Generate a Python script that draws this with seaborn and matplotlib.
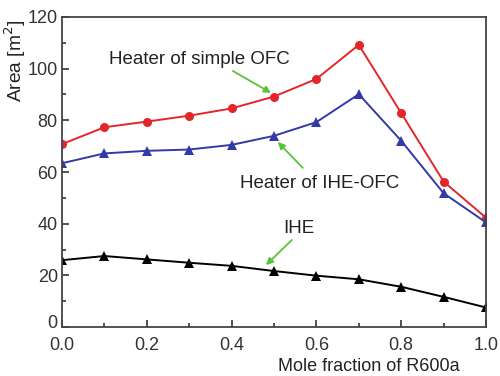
import matplotlib
matplotlib.use("Agg")
import matplotlib.pyplot as plt
import matplotlib.transforms as mtransforms
import seaborn as sns
import pandas as pd
from matplotlib.ticker import MultipleLocator

x = [0.0, 0.1, 0.2, 0.3, 0.4, 0.5, 0.6, 0.7, 0.8, 0.9, 1.0]
simple_ofc = [70.8, 77.3, 79.5, 81.8, 84.6, 89.2, 96.0, 109.2, 82.8, 56.3, 42.3]
ihe_ofc = [63.4, 67.2, 68.2, 68.7, 70.5, 74.0, 79.3, 90.1, 72.1, 51.8, 40.5]
ihe = [25.9, 27.5, 26.2, 24.9, 23.7, 21.7, 19.9, 18.5, 15.6, 11.7, 7.6]

sns.set_style("ticks")
plt.rcParams['font.family'] = ['Liberation Sans', 'DejaVu Sans']

fig = plt.figure(figsize=(5, 3.76), dpi=100)
ax = fig.add_axes([0.124, 0.130, 0.848, 0.825])

df = pd.DataFrame({"x": x, "a": simple_ofc, "b": ihe_ofc, "c": ihe})
sns.lineplot(data=df, x="x", y="a", ax=ax, color="#e3262a", marker="o",
             markersize=6.5, markeredgewidth=0, linewidth=1.4)
sns.lineplot(data=df, x="x", y="b", ax=ax, color="#3439a8", marker="^",
             markersize=7, markeredgewidth=0, linewidth=1.4)
sns.lineplot(data=df, x="x", y="c", ax=ax, color="black", marker="^",
             markersize=7, markeredgewidth=0, linewidth=1.4)

ax.set_xlim(0, 1.0)
ax.set_ylim(0, 120)
ax.xaxis.set_major_locator(MultipleLocator(0.2))
ax.xaxis.set_minor_locator(MultipleLocator(0.1))
ax.yaxis.set_major_locator(MultipleLocator(20))
ax.yaxis.set_minor_locator(MultipleLocator(10))
ax.tick_params(which="both", direction="in", top=False, right=False,
               labelsize=13, colors="#333333", width=1.2)
ax.tick_params(axis="x", which="major", length=5, pad=7)
ax.tick_params(axis="y", which="major", length=5, pad=3)
ax.tick_params(which="minor", length=3)
for s in ax.spines.values():
    s.set_visible(True)
    s.set_color("#444444")
    s.set_linewidth(1.3)

ax.set_xlabel("Mole fraction of R600a", fontsize=13, color="#222222")
ax.set_ylabel("Area [m$^2$]", fontsize=13.8, color="#222222")
ax.xaxis.set_label_coords(0.724, -0.1)
ax.yaxis.set_label_coords(-0.081, 0.858)

green = "#5ac23a"
arrow = dict(arrowstyle="-|>", color=green, lw=1.3, shrinkA=0, shrinkB=0,
             mutation_scale=10)
txt = dict(fontsize=13.5, color="#222222", ha="center", va="center")

ax.text(0.325, 103.4, "Heater of simple OFC", **txt)
ax.annotate("", xy=(0.493, 90.6), xytext=(0.403, 99.1), arrowprops=arrow)

ax.text(0.608, 55.4, "Heater of IHE-OFC", **txt)
ax.annotate("", xy=(0.509, 71.6), xytext=(0.568, 61.6), arrowprops=arrow)

ax.text(0.559, 38.3, "IHE", **txt)
ax.annotate("", xy=(0.481, 24.0), xytext=(0.542, 33.7), arrowprops=arrow)

fig.canvas.draw()
for lbl in ax.get_yticklabels():
    if lbl.get_text() == "0":
        lbl.set_transform(lbl.get_transform() +
                          mtransforms.ScaledTranslation(0, 4 / 72, fig.dpi_scale_trans))

fig.savefig("out.png", dpi=100, facecolor="white")
